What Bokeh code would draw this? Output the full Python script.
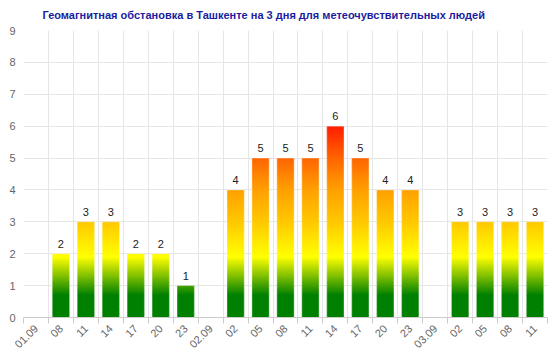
import numpy as np
from bokeh.plotting import figure
from bokeh.models import FixedTicker, Range1d, ColumnDataSource
from bokeh.core.properties import value
from bokeh.embed import file_html
from bokeh.resources import INLINE

title_text = "Геомагнитная обстановка в Ташкенте на 3 дня для метеочувствительных людей"
categories = ["01.09", "08", "11", "14", "17", "20", "23",
              "02.09", "02", "05", "08", "11", "14", "17", "20", "23",
              "03.09", "02", "05", "08", "11"]
kp_values = [None, 2, 3, 3, 2, 2, 1,
             None, 4, 5, 5, 5, 6, 5, 4, 4,
             None, 3, 3, 3, 3]
y_ticks = [0, 1, 2, 3, 4, 5, 6, 7, 8, 9]

# gradient stops in value space (value, (r, g, b))
stop_vals = [0.0, 0.7, 1.9, 3.0, 4.0, 5.0, 6.0]
stop_cols = [(0, 128, 0), (0, 128, 0), (255, 255, 0), (255, 200, 0),
             (255, 160, 0), (255, 100, 0), (255, 30, 0)]

def color_at(v):
    r = np.interp(v, stop_vals, [c[0] for c in stop_cols])
    g = np.interp(v, stop_vals, [c[1] for c in stop_cols])
    b = np.interp(v, stop_vals, [c[2] for c in stop_cols])
    return "#%02x%02x%02x" % (int(round(r)), int(round(g)), int(round(b)))

n = len(categories)
centers = [i + 0.5 for i in range(n)]

p = figure(width=560, height=354, output_backend="svg", toolbar_location=None,
           x_range=Range1d(0, n), y_range=Range1d(0, 9),
           min_border_left=23, min_border_right=13, min_border_top=0,
           min_border_bottom=32)
p.outline_line_color = None
p.background_fill_color = "white"
p.border_fill_color = "white"

# title
p.title.text = title_text
p.title.align = "left"
p.title.vertical_align = "top"
p.title.text_font = "Liberation Sans"
p.title.text_font_size = "11px"
p.title.text_font_style = "bold"
p.title.text_color = "#1c1ca0"
p.title.offset = 19
p.title.standoff = 16

# gradient bars built from thin slices
step = 0.04
xs, bots, tops, cols = [], [], [], []
for c, v in zip(centers, kp_values):
    if not v:
        continue
    k = int(round(v / step))
    for j in range(k):
        b = j * step
        t = min(v, b + step * 1.6)
        xs.append(c)
        bots.append(b)
        tops.append(t)
        cols.append(color_at(b + step / 2))
src = ColumnDataSource(dict(x=xs, bottom=bots, top=tops, color=cols))
p.vbar(x="x", bottom="bottom", top="top", width=0.69, source=src,
       fill_color="color", line_color=None)

# thin light outline of each bar
bx = [c for c, v in zip(centers, kp_values) if v]
bv = [v for v in kp_values if v]
p.vbar(x=bx, top=bv, bottom=0, width=0.69, fill_color=None,
       line_color="#ffffff", line_alpha=0.35, line_width=1)

# data labels
lt = [str(v) for v in bv]
p.text(x=bx, y=bv, text=lt, y_offset=-6, text_align="center",
       text_baseline="bottom", text_font=value("Liberation Sans"),
       text_font_size="11px", text_color="#222222")

# grids
p.xgrid.ticker = FixedTicker(ticks=list(range(n + 1)))
p.xgrid.grid_line_color = "#e6e6e6"
p.ygrid.ticker = FixedTicker(ticks=y_ticks)
p.ygrid.grid_line_color = "#e6e6e6"

# axes
xa = p.xaxis[0]
xa.ticker = FixedTicker(ticks=centers, minor_ticks=list(range(n + 1)))
xa.major_label_overrides = {c: lab for c, lab in zip(centers, categories)}
xa.major_label_orientation = np.pi / 4
xa.major_tick_line_color = None
xa.minor_tick_out = 6
xa.minor_tick_in = 0
xa.minor_tick_line_color = "#cccccc"
xa.axis_line_color = "#cccccc"
xa.major_label_text_font = "Liberation Sans"
xa.major_label_text_font_size = "11px"
xa.major_label_text_color = "#666666"
xa.major_label_standoff = 3

ya = p.yaxis[0]
ya.ticker = FixedTicker(ticks=y_ticks)
ya.axis_line_color = None
ya.major_tick_line_color = None
ya.minor_tick_line_color = None
ya.major_label_text_font = "Liberation Sans"
ya.major_label_text_font_size = "11px"
ya.major_label_text_color = "#666666"
ya.major_label_standoff = 2

open("out.html", "w").write(file_html(p, INLINE))
